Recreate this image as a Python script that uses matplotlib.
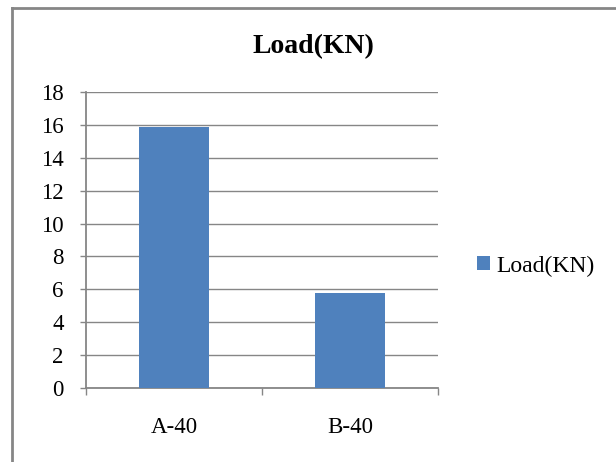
import matplotlib
matplotlib.use("Agg")
import matplotlib.pyplot as plt
from matplotlib.lines import Line2D

# chart data
categories = ["A-40", "B-40"]
load_kn = [15.9, 5.8]
y_ticks = list(range(0, 20, 2))

plt.rcParams['font.family'] = ['Liberation Serif', 'DejaVu Serif']

fig = plt.figure(figsize=(6.16, 4.62), dpi=100)
ax = fig.add_axes([86 / 616, 1 - 388 / 462, 352 / 616, 296 / 462])

grey = "#868686"
bar_color = "#4f81bd"

x = list(range(len(categories)))
ax.bar(x, load_kn, width=0.40, color=bar_color, label="Load(KN)", zorder=3)

ax.set_xlim(-0.5, len(categories) - 0.5)
ax.set_ylim(0, 18)
ax.set_yticks(y_ticks)
ax.yaxis.grid(True, color=grey, linewidth=1.0, zorder=0)

# category labels centred, tick marks at the boundaries
ax.set_xticks([i - 0.5 for i in range(len(categories) + 1)])
ax.set_xticklabels([])
ax.set_xticks(x, minor=True)
ax.set_xticklabels(categories, minor=True, fontsize=16.5)
ax.tick_params(axis="x", which="minor", length=0, pad=21)
ax.tick_params(axis="x", which="major", length=5, width=1, color=grey, direction="out")
ax.tick_params(axis="y", length=4, width=1, color=grey, direction="out", labelsize=16.5, pad=12)

for side in ["top", "right"]:
    ax.spines[side].set_visible(False)
for side in ["left", "bottom"]:
    ax.spines[side].set_color(grey)
    ax.spines[side].set_linewidth(1.3)

fig.text(313 / 616, 1 - 47 / 462, "Load(KN)", ha="center", va="center",
         fontsize=20, fontweight="bold")

ax.legend(loc="center left", bbox_to_anchor=(477 / 616, 1 - 266 / 462),
          bbox_transform=fig.transFigure, frameon=False, fontsize=17,
          handlelength=0.55, handleheight=0.55, handletextpad=0.25,
          borderaxespad=0, borderpad=0)

# chart area border (left and top only visible)
fig.add_artist(Line2D([11.5 / 616, 11.5 / 616], [0, 1 - 7.5 / 462],
                      transform=fig.transFigure, color=grey, linewidth=2))
fig.add_artist(Line2D([11.5 / 616, 1], [1 - 7.5 / 462, 1 - 7.5 / 462],
                      transform=fig.transFigure, color=grey, linewidth=2))

fig.savefig("out.png", dpi=100)
